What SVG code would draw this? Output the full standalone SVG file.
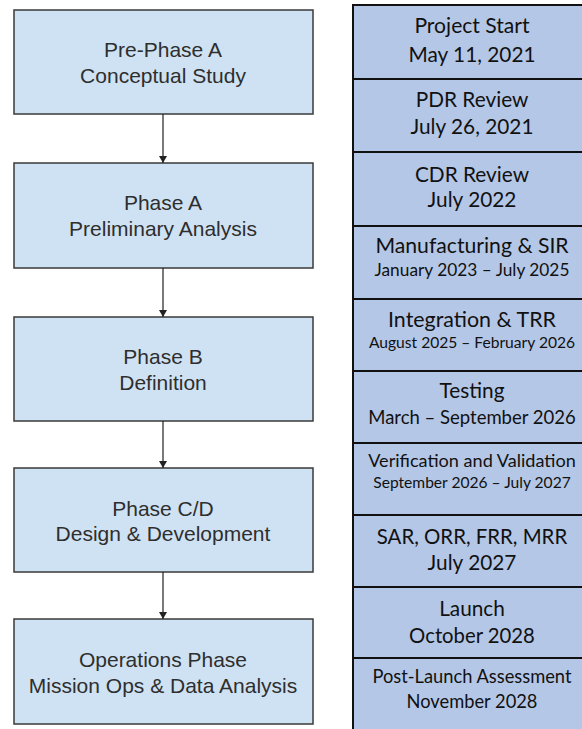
<svg xmlns="http://www.w3.org/2000/svg" width="582" height="729" viewBox="0 0 582 729">
  <style>
    .phase rect { fill: #cfe2f3; stroke: #3a3a3a; stroke-width: 1.5; }
    .phase text { font-family: "Liberation Sans", Arial, sans-serif; font-size: 21px; fill: #2e2e2e; text-anchor: middle; }
    .row rect { fill: #b4c7e7; stroke: #111; stroke-width: 2; }
    .row text { font-family: Lato, "Open Sans", sans-serif; fill: #111; text-anchor: middle; }
    .big { font-size: 20.8px; }
    .mid { font-size: 18.3px; }
    .small { font-size: 15.6px; }
    .conn line { stroke: #222; stroke-width: 1.2; }
  </style>
  <defs>
    <marker id="arrow" markerWidth="8" markerHeight="8" refX="7" refY="4" orient="auto" markerUnits="userSpaceOnUse">
      <path d="M0,0 L7,4 L0,8 Z" fill="#222"/>
    </marker>
  </defs>
  <rect width="582" height="729" fill="#ffffff"/>

  <!-- Phase flow (left) -->
  <g id="pre-phase-a" class="phase">
    <rect x="14" y="10" width="299" height="104"/>
    <text x="163" y="57">Pre-Phase A</text>
    <text x="163" y="83">Conceptual Study</text>
  </g>
  <g id="phase-a" class="phase">
    <rect x="14" y="163" width="299" height="105"/>
    <text x="163" y="210">Phase A</text>
    <text x="163" y="236">Preliminary Analysis</text>
  </g>
  <g id="phase-b" class="phase">
    <rect x="14" y="317" width="299" height="104"/>
    <text x="163" y="364">Phase B</text>
    <text x="163" y="390">Definition</text>
  </g>
  <g id="phase-cd" class="phase">
    <rect x="14" y="468" width="299" height="104"/>
    <text x="163" y="516">Phase C/D</text>
    <text x="163" y="541">Design &amp; Development</text>
  </g>
  <g id="operations" class="phase">
    <rect x="14" y="619" width="299" height="105"/>
    <text x="163" y="667">Operations Phase</text>
    <text x="163" y="693">Mission Ops &amp; Data Analysis</text>
  </g>

  <g id="connectors" class="conn">
    <line x1="163" y1="114" x2="163" y2="163" marker-end="url(#arrow)"/>
    <line x1="163" y1="268" x2="163" y2="317" marker-end="url(#arrow)"/>
    <line x1="163" y1="421" x2="163" y2="468" marker-end="url(#arrow)"/>
    <line x1="163" y1="572" x2="163" y2="619" marker-end="url(#arrow)"/>
  </g>

  <!-- Milestone timeline (right) -->
  <g id="ms-project-start" class="row">
    <rect x="353" y="5" width="240" height="74"/>
    <text class="big" x="472" y="33" style="font-size:21.1px">Project Start</text>
    <text class="big" x="472" y="62">May 11, 2021</text>
  </g>
  <g id="ms-pdr" class="row">
    <rect x="353" y="79" width="240" height="73"/>
    <text class="big" x="472" y="107">PDR Review</text>
    <text class="big" x="472" y="134">July 26, 2021</text>
  </g>
  <g id="ms-cdr" class="row">
    <rect x="353" y="152" width="240" height="74"/>
    <text class="big" x="472" y="182">CDR Review</text>
    <text class="big" x="472" y="207">July 2022</text>
  </g>
  <g id="ms-manufacturing" class="row">
    <rect x="353" y="226" width="240" height="73"/>
    <text class="big" x="472" y="253" style="font-size:21.2px">Manufacturing &amp; SIR</text>
    <text x="472" y="276" style="font-size:17.3px">January 2023 – July 2025</text>
  </g>
  <g id="ms-integration" class="row">
    <rect x="353" y="299" width="240" height="72"/>
    <text class="big" x="472" y="327" style="font-size:21.4px">Integration &amp; TRR</text>
    <text class="small" x="472" y="348">August 2025 – February 2026</text>
  </g>
  <g id="ms-testing" class="row">
    <rect x="353" y="371" width="240" height="72"/>
    <text class="big" x="472" y="398">Testing</text>
    <text x="472" y="424" style="font-size:18.5px">March – September 2026</text>
  </g>
  <g id="ms-vv" class="row">
    <rect x="353" y="443" width="240" height="72"/>
    <text class="mid" x="472" y="467" style="font-size:18.1px">Verification and Validation</text>
    <text class="small" x="472" y="488">September 2026 – July 2027</text>
  </g>
  <g id="ms-reviews" class="row">
    <rect x="353" y="515" width="240" height="72"/>
    <text class="big" x="472" y="544" style="font-size:20.4px">SAR, ORR, FRR, MRR</text>
    <text class="big" x="472" y="570">July 2027</text>
  </g>
  <g id="ms-launch" class="row">
    <rect x="353" y="587" width="240" height="71"/>
    <text class="big" x="472" y="616">Launch</text>
    <text class="big" x="472" y="643" style="font-size:20.3px">October 2028</text>
  </g>
  <g id="ms-post-launch" class="row">
    <rect x="353" y="658" width="240" height="80"/>
    <text class="mid" x="472" y="683">Post-Launch Assessment</text>
    <text class="mid" x="472" y="708">November 2028</text>
  </g>
</svg>
